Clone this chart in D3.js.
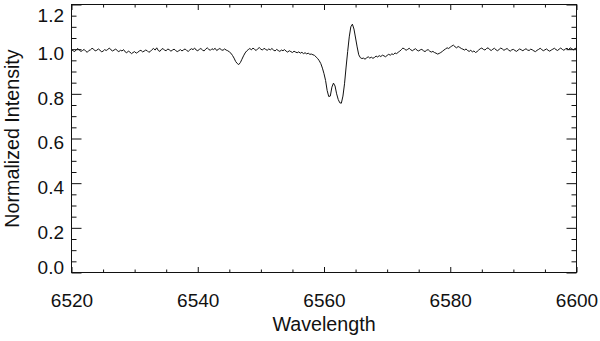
<!DOCTYPE html>
<html><head><meta charset="utf-8">
<script src="https://cdn.jsdelivr.net/npm/d3@7"></script>
<style>
html,body{margin:0;padding:0;background:#fff;}
svg{display:block;}
text{font-family:"Liberation Sans",Arial,Helvetica,sans-serif;fill:#111;}
</style></head>
<body>
<svg id="chart" width="600" height="341"></svg>
<script>
// ---- data ----
const wavelength = [
6520,6520.25,6520.5,6520.75,6521,6521.25,6521.5,6521.75,
6522,6522.25,6522.5,6522.75,6523,6523.25,6523.5,6523.75,
6524,6524.25,6524.5,6524.75,6525,6525.25,6525.5,6525.75,
6526,6526.25,6526.5,6526.75,6527,6527.25,6527.5,6527.75,
6528,6528.25,6528.5,6528.75,6529,6529.25,6529.5,6529.75,
6530,6530.25,6530.5,6530.75,6531,6531.25,6531.5,6531.75,
6532,6532.25,6532.5,6532.75,6533,6533.25,6533.5,6533.75,
6534,6534.25,6534.5,6534.75,6535,6535.25,6535.5,6535.75,
6536,6536.25,6536.5,6536.75,6537,6537.25,6537.5,6537.75,
6538,6538.25,6538.5,6538.75,6539,6539.25,6539.5,6539.75,
6540,6540.25,6540.5,6540.75,6541,6541.25,6541.5,6541.75,
6542,6542.25,6542.5,6542.75,6543,6543.25,6543.5,6543.75,
6544,6544.25,6544.5,6544.75,6545,6545.25,6545.5,6545.75,
6546,6546.25,6546.5,6546.75,6547,6547.25,6547.5,6547.75,
6548,6548.25,6548.5,6548.75,6549,6549.25,6549.5,6549.75,
6550,6550.25,6550.5,6550.75,6551,6551.25,6551.5,6551.75,
6552,6552.25,6552.5,6552.75,6553,6553.25,6553.5,6553.75,
6554,6554.25,6554.5,6554.75,6555,6555.25,6555.5,6555.75,
6556,6556.25,6556.5,6556.75,6557,6557.25,6557.5,6557.75,
6558,6558.25,6558.5,6558.75,6559,6559.25,6559.5,6559.75,
6560,6560.25,6560.5,6560.75,6561,6561.25,6561.5,6561.75,
6562,6562.25,6562.5,6562.75,6563,6563.25,6563.5,6563.75,
6564,6564.25,6564.5,6564.75,6565,6565.25,6565.5,6565.75,
6566,6566.25,6566.5,6566.75,6567,6567.25,6567.5,6567.75,
6568,6568.25,6568.5,6568.75,6569,6569.25,6569.5,6569.75,
6570,6570.25,6570.5,6570.75,6571,6571.25,6571.5,6571.75,
6572,6572.25,6572.5,6572.75,6573,6573.25,6573.5,6573.75,
6574,6574.25,6574.5,6574.75,6575,6575.25,6575.5,6575.75,
6576,6576.25,6576.5,6576.75,6577,6577.25,6577.5,6577.75,
6578,6578.25,6578.5,6578.75,6579,6579.25,6579.5,6579.75,
6580,6580.25,6580.5,6580.75,6581,6581.25,6581.5,6581.75,
6582,6582.25,6582.5,6582.75,6583,6583.25,6583.5,6583.75,
6584,6584.25,6584.5,6584.75,6585,6585.25,6585.5,6585.75,
6586,6586.25,6586.5,6586.75,6587,6587.25,6587.5,6587.75,
6588,6588.25,6588.5,6588.75,6589,6589.25,6589.5,6589.75,
6590,6590.25,6590.5,6590.75,6591,6591.25,6591.5,6591.75,
6592,6592.25,6592.5,6592.75,6593,6593.25,6593.5,6593.75,
6594,6594.25,6594.5,6594.75,6595,6595.25,6595.5,6595.75,
6596,6596.25,6596.5,6596.75,6597,6597.25,6597.5,6597.75,
6598,6598.25,6598.5,6598.75,6599,6599.25,6599.5,6599.75,
6600
];
const intensity = [
0.998,0.993,0.989,0.997,1.003,0.995,0.990,0.994,
0.999,0.991,0.986,0.994,0.997,1.004,1.000,0.992,
0.995,1.001,0.996,0.988,0.991,0.998,0.994,0.999,
1.005,0.997,0.992,0.996,1.001,0.993,0.989,0.995,
0.992,0.998,0.988,0.984,0.991,0.987,0.980,0.985,
0.989,0.982,0.986,0.992,0.995,0.988,0.991,0.996,
0.993,0.986,0.990,0.998,1.003,0.996,1.006,0.994,
0.990,0.999,1.003,0.995,0.993,1.001,0.997,0.991,
0.996,1.000,0.994,0.989,0.993,0.998,0.992,0.997,
1.001,0.994,0.990,0.997,1.002,0.998,1.005,0.996,
0.993,0.999,1.003,0.996,0.992,1.000,1.006,0.999,
0.995,1.002,0.998,1.004,0.994,0.999,1.003,0.997,
0.995,1.001,0.996,0.993,0.988,0.982,0.972,0.960,
0.945,0.936,0.931,0.940,0.955,0.970,0.983,0.992,
0.998,1.003,0.997,1.005,0.999,0.994,1.002,1.007,
1.000,0.996,1.004,0.999,0.995,1.001,0.997,1.003,
0.996,0.992,0.999,0.994,0.990,0.996,0.993,0.998,
0.991,0.987,0.993,0.989,0.985,0.991,0.987,0.984,
0.988,0.982,0.986,0.980,0.984,0.979,0.982,0.977,
0.978,0.975,0.972,0.965,0.958,0.948,0.935,0.915,
0.890,0.860,0.815,0.788,0.790,0.830,0.848,0.835,
0.800,0.775,0.760,0.758,0.790,0.845,0.920,0.990,
1.055,1.100,1.112,1.090,1.050,1.010,0.975,0.962,
0.958,0.960,0.955,0.961,0.966,0.960,0.964,0.959,
0.963,0.969,0.965,0.971,0.967,0.973,0.970,0.966,
0.972,0.977,0.973,0.979,0.976,0.983,0.980,0.986,
0.991,0.998,1.005,1.001,0.995,0.999,1.004,0.997,
0.993,0.998,1.002,0.995,0.992,0.997,0.999,0.993,
0.989,0.995,0.998,0.991,0.987,0.990,0.985,0.982,
0.978,0.981,0.985,0.990,0.996,1.001,1.006,1.003,
1.009,1.014,1.018,1.011,1.006,1.012,1.008,1.003,
1.000,0.996,1.001,0.994,0.990,0.995,0.988,0.992,
0.985,0.989,0.996,1.002,1.005,0.999,0.996,1.003,
1.006,0.998,0.994,1.000,1.004,0.997,0.993,0.999,
1.005,1.001,0.995,0.999,1.003,0.996,0.991,0.997,
0.999,0.994,0.990,0.996,1.001,0.997,0.993,0.998,
1.002,0.996,0.994,1.000,0.997,0.992,0.989,0.995,
0.999,1.004,0.998,0.993,0.997,1.001,0.995,0.991,
0.996,1.000,1.004,0.998,0.994,1.000,1.005,0.999,
0.995,1.001,1.004,0.998,1.006,1.002,0.997,1.003,
1.004
];
const xMajorTicks = [6520, 6540, 6560, 6580, 6600];
const xMinorTicks = [6525,6530,6535,6545,6550,6555,6565,6570,6575,6585,6590,6595];
const yMajorTicks = [0.0, 0.2, 0.4, 0.6, 0.8, 1.0, 1.2];
const yMinorTicks = [0.05,0.1,0.15,0.25,0.3,0.35,0.45,0.5,0.55,0.65,0.7,0.75,0.85,0.9,0.95,1.05,1.1,1.15];
const xTitle = "Wavelength";
const yTitle = "Normalized Intensity";

// ---- layout ----
const svg = d3.select("#chart");
const L = 71.5, R = 576.5, T = 4.5, B = 272.5;
const x = d3.scaleLinear().domain([6520, 6600]).range([L, R]);
const y = d3.scaleLinear().domain([0, 1.2]).range([B, T]);

const fs = 19, fsTitle = 19.7;
// bottom axis (labels + major ticks inward)
const gB = svg.append("g").attr("transform", `translate(0,${B})`)
  .call(d3.axisBottom(x).tickValues(xMajorTicks).tickFormat(d3.format("d"))
    .tickSizeInner(-5.5).tickSizeOuter(0).tickPadding(28.5));
gB.selectAll("text").attr("dy", 0).attr("y", 34).style("font-size", fs + "px").attr("fill", "#111");
svg.append("g").attr("transform", `translate(0,${B})`)
  .call(d3.axisBottom(x).tickValues(xMinorTicks).tickFormat("").tickSizeInner(-3).tickSizeOuter(0));
// top axis
svg.append("g").attr("transform", `translate(0,${T})`)
  .call(d3.axisTop(x).tickValues(xMajorTicks).tickFormat("").tickSizeInner(-5.5).tickSizeOuter(0));
svg.append("g").attr("transform", `translate(0,${T})`)
  .call(d3.axisTop(x).tickValues(xMinorTicks).tickFormat("").tickSizeInner(-3).tickSizeOuter(0));
// left axis
const gL = svg.append("g").attr("transform", `translate(${L},0)`)
  .call(d3.axisLeft(y).tickValues(yMajorTicks).tickFormat(d3.format(".1f"))
    .tickSizeInner(-10).tickSizeOuter(0).tickPadding(7.5));
gL.selectAll("text").style("font-size", fs + "px").attr("fill", "#111").attr("dy", 0)
  .attr("y", d => d === 1.2 ? 16.5 : (d === 0 ? 0.8 : 10.3));
svg.append("g").attr("transform", `translate(${L},0)`)
  .call(d3.axisLeft(y).tickValues(yMinorTicks).tickFormat("").tickSizeInner(-5).tickSizeOuter(0));
// right axis
svg.append("g").attr("transform", `translate(${R},0)`)
  .call(d3.axisRight(y).tickValues(yMajorTicks).tickFormat("").tickSizeInner(-10).tickSizeOuter(0));
svg.append("g").attr("transform", `translate(${R},0)`)
  .call(d3.axisRight(y).tickValues(yMinorTicks).tickFormat("").tickSizeInner(-5).tickSizeOuter(0));

svg.selectAll(".domain").remove();
svg.selectAll(".tick line").attr("stroke", "#111").attr("stroke-width", 1);

// frame
svg.append("rect").attr("x", L).attr("y", T).attr("width", R - L).attr("height", B - T)
  .attr("fill", "none").attr("stroke", "#111").attr("stroke-width", 1);

// spectrum
const data = wavelength.map((w, i) => [w, intensity[i]]);
svg.append("path").datum(data)
  .attr("fill", "none").attr("stroke", "#111").attr("stroke-width", 1)
  .attr("stroke-linejoin", "round")
  .attr("d", d3.line().x(d => x(d[0])).y(d => y(d[1])));

// titles
svg.append("text").attr("x", (L + R) / 2).attr("y", 330.5).attr("text-anchor", "middle")
  .style("font-size", fsTitle + "px").text(xTitle);
svg.append("text").attr("transform", `translate(18.5,${(T + B) / 2}) rotate(-90)`)
  .attr("text-anchor", "middle").style("font-size", fsTitle + "px").text(yTitle);
</script>
</body></html>
